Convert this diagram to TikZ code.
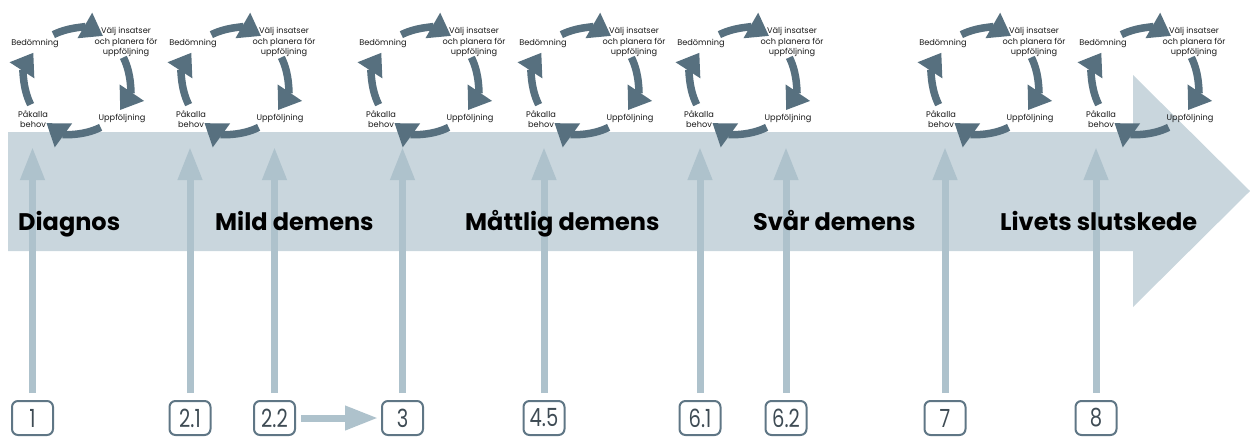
\documentclass[tikz,border=0pt]{standalone}
\usepackage{fontspec}
\setmainfont{Poppins}
\newfontfamily\numfont{Poppins}[FakeStretch=0.78]
\usetikzlibrary{arrows.meta,calc}
\definecolor{band}{HTML}{C9D6DD}
\definecolor{vline}{HTML}{AEC2CC}
\definecolor{cycc}{HTML}{57707F}
\definecolor{boxc}{HTML}{5F7685}
\definecolor{numc}{HTML}{3E4B54}
\tikzset{
  cyc/.style={draw=cycc,line width=7.5pt,-{Triangle[width=28pt,length=21pt]}},
  clab/.style={inner sep=0pt,font=\fontsize{8.2}{10.5}\selectfont,text=black!90},
  varrow/.style={draw=vline,line width=7pt,-{Triangle[width=23pt,length=33pt]}},
  numbox/.style={draw=boxc,line width=2pt,rounded corners=6pt,minimum width=41pt,minimum height=34pt,inner sep=0pt,font=\numfont\fontsize{25}{25}\selectfont,text=numc},
  stage/.style={inner sep=0pt,anchor=base west,font=\fontsize{24}{28}\selectfont\bfseries,text=black}
}
\newcommand\cyclegroup[2]{%
  \coordinate (#2) at (#1,81);
  \draw[cyc] (#2) ++(-117:52) arc[start angle=-117,end angle=-60,radius=52];
  \draw[cyc] (#2) ++(-27:52) arc[start angle=-27,end angle=34,radius=52];
  \draw[cyc] (#2) ++(63:52) arc[start angle=63,end angle=126,radius=52];
  \draw[cyc] (#2) ++(153:52) arc[start angle=153,end angle=213,radius=52];
  \node[clab] (#2-b) at ($(#2)+(-42,-38)$) {Bedömning};
  \node[clab,align=center] (#2-v) at ($(#2)+(49,-39)$) {Välj insatser\\och planera för\\uppföljning};
  \node[clab] (#2-u) at ($(#2)+(45,37)$) {Uppföljning};
  \node[clab,align=center] (#2-p) at ($(#2)+(-44,38)$) {Påkalla\\behov};
}
\begin{document}
\begin{tikzpicture}[x=1pt,y=-1pt]
\useasboundingbox (0,0) rectangle (1250,437);
% big arrow
\fill[band] (8,132) -- (1133,132) -- (1133,75) -- (1250,191) -- (1133,307) -- (1133,251) -- (8,251) -- cycle;
% boxes
\node[numbox] (b1) at (32.5,418) {1};
\node[numbox] (b21) at (190,418) {2.1};
\node[numbox] (b22) at (274.5,418) {2.2};
\node[numbox] (b3) at (402.5,418) {3};
\node[numbox] (b45) at (544,418) {4.5};
\node[numbox] (b61) at (700,418) {6.1};
\node[numbox] (b62) at (786,418) {6.2};
\node[numbox] (b7) at (945,418) {7};
\node[numbox] (b8) at (1096,418) {8};
% arrow tips
\foreach \n/\x in {1/32.5,21/190,22/274.5,3/402.5,45/544,61/700,62/786,7/945,8/1096}{
  \coordinate (t\n) at (\x,147);
  \draw[varrow] ([yshift=7pt]b\n.north) -- (t\n);
}
\draw[varrow] ([xshift=5pt]b22.east) -- ([xshift=-3pt]b3.west);
% cycles
\cyclegroup{77}{c1}
\cyclegroup{235}{c2}
\cyclegroup{425}{c3}
\cyclegroup{585}{c4}
\cyclegroup{743}{c5}
\cyclegroup{985}{c6}
\cyclegroup{1145}{c7}
% stage labels
\node[stage] (s1) at (18,230) {Diagnos};
\node[stage] (s2) at (215,230) {Mild demens};
\node[stage] (s3) at (465,230) {Måttlig demens};
\node[stage] (s4) at (753,230) {Svår demens};
\node[stage] (s5) at (1000,230) {Livets slutskede};
\end{tikzpicture}
\end{document}
